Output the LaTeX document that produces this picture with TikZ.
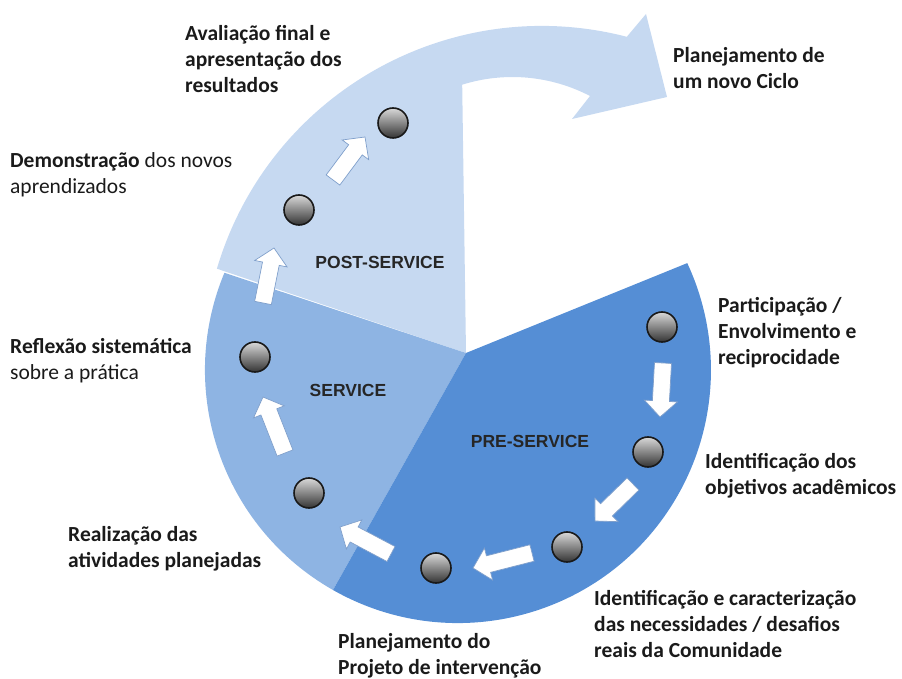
\documentclass[tikz,border=0pt]{standalone}
\usepackage{fontspec}
\setmainfont{Carlito}
\newfontfamily\lblfont{Liberation Sans}
\usetikzlibrary{calc}
\definecolor{postc}{HTML}{C6D9F1}
\definecolor{servc}{HTML}{8EB4E3}
\definecolor{prec}{HTML}{558ED5}
\definecolor{arrowedge}{HTML}{7F9FCB}
\definecolor{txt}{HTML}{1A1A1A}
\definecolor{lbl}{HTML}{262626}
\tikzset{
  dotball/.style={circle, minimum size=30pt, inner sep=0pt, draw=black!90, line width=1.6pt,
    top color=black!15, bottom color=black!80},
  blockarrow/.style={fill=white, draw=arrowedge, line width=0.7pt, line join=miter,
    to path={
      ($(\tikztostart)!8.5pt!90:(\tikztotarget)$) --
      ($(\tikztotarget)!16pt!(\tikztostart)!8.5pt!-90:(\tikztostart)$) --
      ($(\tikztotarget)!16pt!(\tikztostart)!16.5pt!-90:(\tikztostart)$) --
      (\tikztotarget) --
      ($(\tikztotarget)!16pt!(\tikztostart)!16.5pt!90:(\tikztostart)$) --
      ($(\tikztotarget)!16pt!(\tikztostart)!8.5pt!90:(\tikztostart)$) --
      ($(\tikztostart)!8.5pt!-90:(\tikztotarget)$) -- cycle}},
  desc/.style={anchor=base west, align=left, inner sep=0pt, text=txt,
    font=\fontsize{21.5}{26}\selectfont},
  phase/.style={inner sep=0pt, text=lbl, font=\lblfont\bfseries\fontsize{17.5}{21}\selectfont}
}
\begin{document}
\begin{tikzpicture}[x=1pt,y=1pt]
\useasboundingbox (0,0) rectangle (902,678);
% sectors
\fill[postc] (466,325) -- (216.9,409.3) arc[start angle=163.5, end angle=75.5, radius=339]
  -- (646,664) -- (667,581) -- (572,559) -- (590,582)
  arc[start angle=62.5, end angle=107.4, radius=168] -- cycle;
\fill[servc] (466,325) -- (224.4,405.2) arc[start angle=157.4, end angle=240.4, radius=253] -- cycle;
\fill[prec] (466,325) -- (333,88) arc[start angle=240.4, end angle=385, radius=253] -- cycle;

% phase labels
\node[phase] (lpost) at (380,416) {POST-SERVICE};
\node[phase] (lserv) at (348,288) {SERVICE};
\node[phase] (lpre) at (530,237) {PRE-SERVICE};

% arrow end points
\coordinate (a1s) at (663,315); \coordinate (a1e) at (660,261);
\coordinate (a2s) at (633,194); \coordinate (a2e) at (595,157);
\coordinate (a3s) at (532,125); \coordinate (a3e) at (473,110);
\coordinate (a4s) at (391,124); \coordinate (a4e) at (340,151);
\coordinate (a5s) at (285,225); \coordinate (a5e) at (263,281);
\coordinate (a6s) at (263,375); \coordinate (a6e) at (274,430);
\coordinate (a7s) at (333,498); \coordinate (a7e) at (365,541);
\foreach \i in {1,...,7} {\draw[blockarrow] (a\i s) to (a\i e);}

% dots
\node[dotball] (d1) at (393,555) {};
\node[dotball] (d2) at (299,468) {};
\node[dotball] (d3) at (255,321) {};
\node[dotball] (d4) at (309,185) {};
\node[dotball] (d5) at (436,110) {};
\node[dotball] (d6) at (567,131) {};
\node[dotball] (d7) at (648,226) {};
\node[dotball] (d8) at (662,351) {};

% descriptions (anchor = baseline of last line)
\node[desc] (t1) at (185,585) {\textbf{Avaliação final e}\\\textbf{apresentação dos}\\\textbf{resultados}};
\node[desc] (t2) at (10,484) {\textbf{Demonstração} dos novos\\aprendizados};
\node[desc] (t3) at (10,298) {\textbf{Reflexão sistemática}\\sobre a prática};
\node[desc] (t4) at (68,111) {\textbf{Realização das}\\\textbf{atividades planejadas}};
\node[desc] (t5) at (338,4) {\textbf{Planejamento do}\\\textbf{Projeto de intervenção}};
\node[desc] (t6) at (594,21) {\textbf{Identificação e caracterização}\\\textbf{das necessidades / desafios}\\\textbf{reais da Comunidade}};
\node[desc] (t7) at (705,184) {\textbf{Identificação dos}\\\textbf{objetivos acadêmicos}};
\node[desc] (t8) at (718,313) {\textbf{Participação /}\\\textbf{Envolvimento e}\\\textbf{reciprocidade}};
\node[desc] (t9) at (673,589) {\textbf{Planejamento de}\\\textbf{um novo Ciclo}};
\end{tikzpicture}
\end{document}
